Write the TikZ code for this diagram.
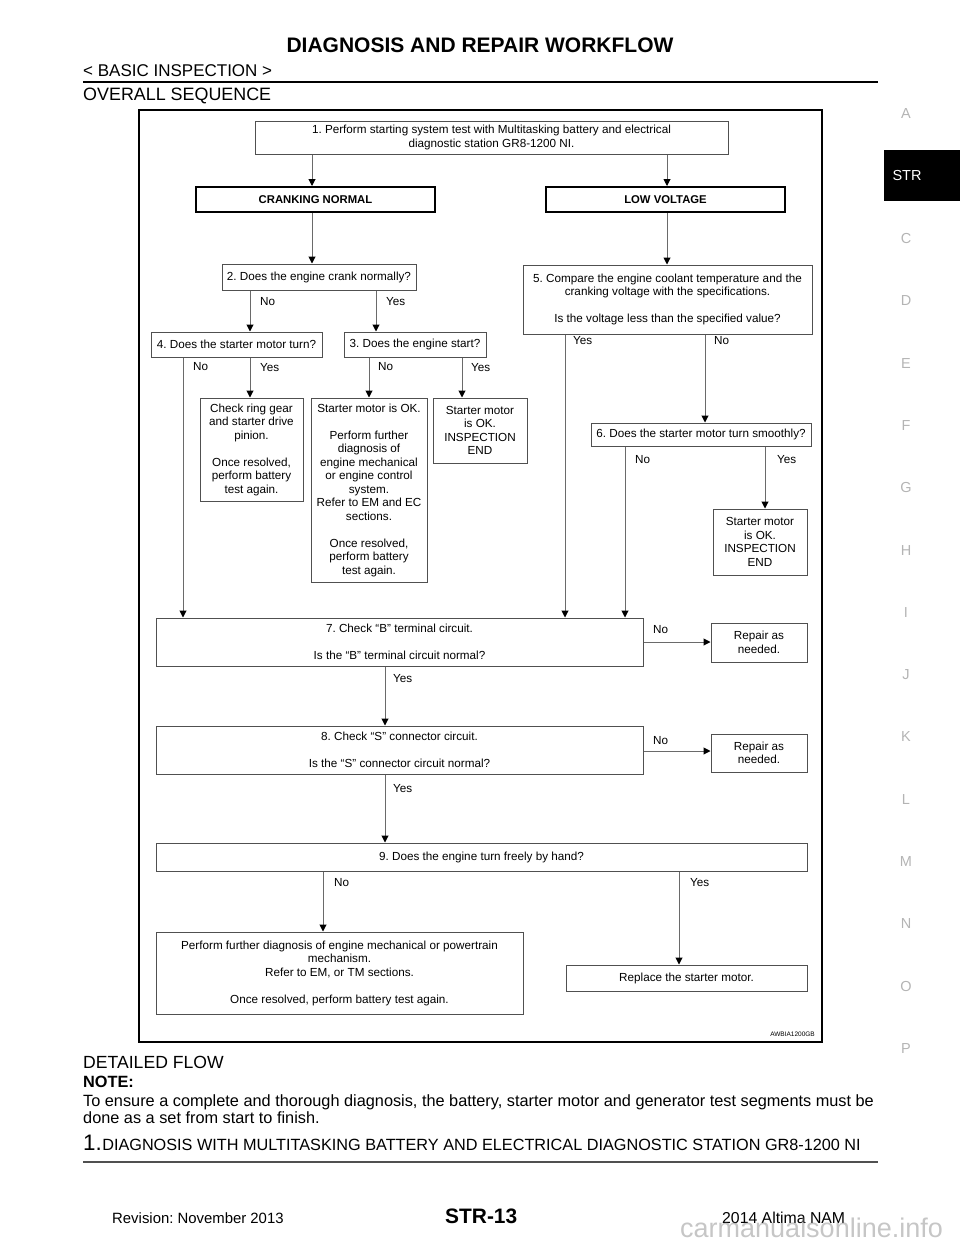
\documentclass[tikz,border=0pt]{standalone}
\usepackage{fontspec}
\setmainfont{Liberation Sans}
\usetikzlibrary{arrows.meta}
\definecolor{boxgray}{HTML}{505050}
\definecolor{linegray}{HTML}{6A6A6A}
\definecolor{tabgray}{HTML}{B4B4B4}
\frenchspacing

\begin{document}
\begin{tikzpicture}[x=1pt,y=-1pt,
    box/.style={draw=boxgray,line width=1pt,inner sep=0pt,align=center,
        font=\fontsize{11.7}{13.5}\selectfont},
    headbox/.style={draw=black,line width=2pt,inner sep=0pt,
        font=\fontsize{11.3}{13.5}\selectfont\bfseries},
    answer/.style={anchor=west,inner sep=0pt,font=\fontsize{11.7}{13.5}\selectfont},
    arr/.style={draw=linegray,line width=1pt,
        -{Triangle[length=7pt,width=7pt,color=black]}},
    page/.style={anchor=base west,inner sep=0pt},
    tabletter/.style={inner sep=0pt,text=tabgray,font=\fontsize{14.5}{16}\selectfont}]
    \useasboundingbox (0,0) rectangle (960,1242);

    % page head
    \node[anchor=base,inner sep=0pt,font=\fontsize{21}{25}\selectfont\bfseries] (title)
        at (480,52) {DIAGNOSIS AND REPAIR WORKFLOW};
    \node[page,font=\fontsize{17}{20}\selectfont] (chapter) at (83,76) {< BASIC INSPECTION >};
    \draw[line width=2.5pt] (83,82) -- (878,82);
    \node[page,font=\fontsize{17.9}{20}\selectfont] (overall) at (83,100) {OVERALL SEQUENCE};

    % side tabs
    \fill (884,150) rectangle (960,201);
    \node[tabletter,text=white] (strtab) at (907,176) {STR};
    \foreach \t/\i in {A/0,C/2,D/3,E/4,F/5,G/6,H/7,I/8,J/9,K/10,L/11,M/12,N/13,O/14,P/15}
        \node[tabletter] (tab\t) at (906,114+62.3*\i) {\t};

    % flow chart
    \draw[line width=1.7pt] (139,110) rectangle (822,1042);
    \node[box,minimum width=473pt,minimum height=33pt] (b1) at (491.5,137.5)
        {1. Perform starting system test with Multitasking battery and electrical\\
         diagnostic station GR8-1200 NI.};
    \node[headbox,minimum width=239pt,minimum height=25pt] (crank) at (315.5,199.5) {CRANKING NORMAL};
    \node[headbox,minimum width=239pt,minimum height=25pt] (low) at (665.5,199.5) {LOW VOLTAGE};
    \node[box,minimum width=194pt,minimum height=26pt] (b2) at (319,277) {2. Does the engine crank normally?};
    \node[box,minimum width=289pt,minimum height=69pt] (b5) at (667.5,299.5)
        {5. Compare the engine coolant temperature and the\\
         cranking voltage with the specifications.\\[13.5pt]
         Is the voltage less than the specified value?};
    \node[box,minimum width=171pt,minimum height=25pt] (b4) at (236.5,344.5) {4. Does the starter motor turn?};
    \node[box,minimum width=142pt,minimum height=25pt] (b3) at (415,344.5) {3. Does the engine start?};
    \node[box,minimum width=103pt,minimum height=103pt] (ring) at (251.5,449.5)
        {Check ring gear\\and starter drive\\pinion.\\[13.5pt]
         Once resolved,\\perform battery\\test again.};
    \node[box,minimum width=116pt,minimum height=184pt] (further) at (369,490)
        {Starter motor is OK.\\[13.5pt]
         Perform further\\diagnosis of\\engine mechanical\\or engine control\\system.\\
         Refer to EM and EC\\sections.\\[13.5pt]
         Once resolved,\\perform battery\\test again.};
    \node[box,minimum width=94pt,minimum height=65pt] (end1) at (480,430.5)
        {Starter motor\\is OK.\\INSPECTION\\END};
    \node[box,minimum width=220pt,minimum height=23pt] (b6) at (701,434.5) {6. Does the starter motor turn smoothly?};
    \node[box,minimum width=94pt,minimum height=66pt] (end2) at (760,542)
        {Starter motor\\is OK.\\INSPECTION\\END};
    \node[box,minimum width=487pt,minimum height=48pt] (b7) at (399.5,642)
        {7. Check “B” terminal circuit.\\[13.5pt]
         Is the “B” terminal circuit normal?};
    \node[box,minimum width=96pt,minimum height=39pt] (rep1) at (759,642.5) {Repair as\\needed.};
    \node[box,minimum width=487pt,minimum height=48pt] (b8) at (399.5,750)
        {8. Check “S” connector circuit.\\[13.5pt]
         Is the “S” connector circuit normal?};
    \node[box,minimum width=96pt,minimum height=38pt] (rep2) at (759,753) {Repair as\\needed.};
    \node[box,minimum width=651pt,minimum height=28pt] (b9) at (481.5,857) {9. Does the engine turn freely by hand?};
    \node[box,minimum width=367pt,minimum height=82pt] (perform) at (339.5,973)
        {Perform further diagnosis of engine mechanical or powertrain\\
         mechanism.\\Refer to EM, or TM sections.\\[13.5pt]
         Once resolved, perform battery test again.};
    \node[box,minimum width=241pt,minimum height=26pt] (replace) at (686.5,978) {Replace the starter motor.};
    \node[anchor=east,inner sep=0pt,font=\fontsize{6.5}{8}\selectfont] (figid)
        at (815,1034) {AWBIA1200GB};

    % connectors
    \foreach \n/\x in {main/312,low/667,no2/250,yes2/376,no4/183,yes4/250,no3/369,
        yes3/462,yes5/565,no5/705,no6/625,yes6/765,yes7/385,no9/323,yes9/679}
        \coordinate (v\n) at (\x,0);
    \coordinate (h7) at (0,642);
    \coordinate (h8) at (0,751);
    \draw[arr] (b1.south -| vmain) -- (crank.north -| vmain);
    \draw[arr] (b1.south -| vlow) -- (low.north -| vlow);
    \draw[arr] (crank.south -| vmain) -- (b2.north -| vmain);
    \draw[arr] (low.south -| vlow) -- (b5.north -| vlow);
    \draw[arr] (b2.south -| vno2) -- (b4.north -| vno2);
    \draw[arr] (b2.south -| vyes2) -- (b3.north -| vyes2);
    \draw[arr] (b4.south -| vno4) -- (b7.north -| vno4);
    \draw[arr] (b4.south -| vyes4) -- (ring.north -| vyes4);
    \draw[arr] (b3.south -| vno3) -- (further.north -| vno3);
    \draw[arr] (b3.south -| vyes3) -- (end1.north -| vyes3);
    \draw[arr] (b5.south -| vyes5) -- (b7.north -| vyes5);
    \draw[arr] (b5.south -| vno5) -- (b6.north -| vno5);
    \draw[arr] (b6.south -| vno6) -- (b7.north -| vno6);
    \draw[arr] (b6.south -| vyes6) -- (end2.north -| vyes6);
    \draw[arr] (b7.east |- h7) -- (rep1.west |- h7);
    \draw[arr] (b7.south -| vyes7) -- (b8.north -| vyes7);
    \draw[arr] (b8.east |- h8) -- (rep2.west |- h8);
    \draw[arr] (b8.south -| vyes7) -- (b9.north -| vyes7);
    \draw[arr] (b9.south -| vno9) -- (perform.north -| vno9);
    \draw[arr] (b9.south -| vyes9) -- (replace.north -| vyes9);

    % answers
    \node[answer] (a2no) at (260,302) {No};
    \node[answer] (a2yes) at (386,302) {Yes};
    \node[answer] (a4no) at (193,367) {No};
    \node[answer] (a4yes) at (260,368) {Yes};
    \node[answer] (a3no) at (378,367) {No};
    \node[answer] (a3yes) at (471,368) {Yes};
    \node[answer] (a5yes) at (573,341) {Yes};
    \node[answer] (a5no) at (714,341) {No};
    \node[answer] (a6no) at (635,460) {No};
    \node[answer] (a6yes) at (777,460) {Yes};
    \node[answer] (a7no) at (653,630) {No};
    \node[answer] (a7yes) at (393,679) {Yes};
    \node[answer] (a8no) at (653,741) {No};
    \node[answer] (a8yes) at (393,789) {Yes};
    \node[answer] (a9no) at (334,883) {No};
    \node[answer] (a9yes) at (690,883) {Yes};

    % detailed flow
    \node[page,font=\fontsize{17.6}{20}\selectfont] (detailed) at (83,1068) {DETAILED FLOW};
    \node[page,font=\fontsize{16.3}{18}\selectfont\bfseries] (note) at (83,1087) {NOTE:};
    \node[page,font=\fontsize{16.3}{18}\selectfont] (note1) at (83,1106)
        {To ensure a complete and thorough diagnosis, the battery, starter motor and generator test segments must be};
    \node[page,font=\fontsize{16.3}{18}\selectfont] (note2) at (83,1123)
        {done as a set from start to finish.};
    \node[page,font=\fontsize{22.4}{24}\selectfont] (stepnum) at (83,1150) {1.};
    \node[page,font=\fontsize{16.25}{18}\selectfont] (steptitle) at (stepnum.base east)
        {DIAGNOSIS WITH MULTITASKING BATTERY AND ELECTRICAL DIAGNOSTIC STATION GR8-1200 NI};
    \draw[line width=1.5pt,boxgray] (83,1162) -- (878,1162);

    % page foot
    \node[page,font=\fontsize{14.9}{17}\selectfont] (revision) at (112,1223) {Revision: November 2013};
    \node[page,font=\fontsize{20.9}{24}\selectfont\bfseries] (pagenum) at (445,1223) {STR-13};
    \node[page,font=\fontsize{15.8}{18}\selectfont] (model) at (722,1223) {2014 Altima NAM};
    \node[page,text=gray,opacity=0.45,font=\fontsize{27}{30}\selectfont] (mark) at (680,1237)
        {carmanualsonline.info};
\end{tikzpicture}
\end{document}
